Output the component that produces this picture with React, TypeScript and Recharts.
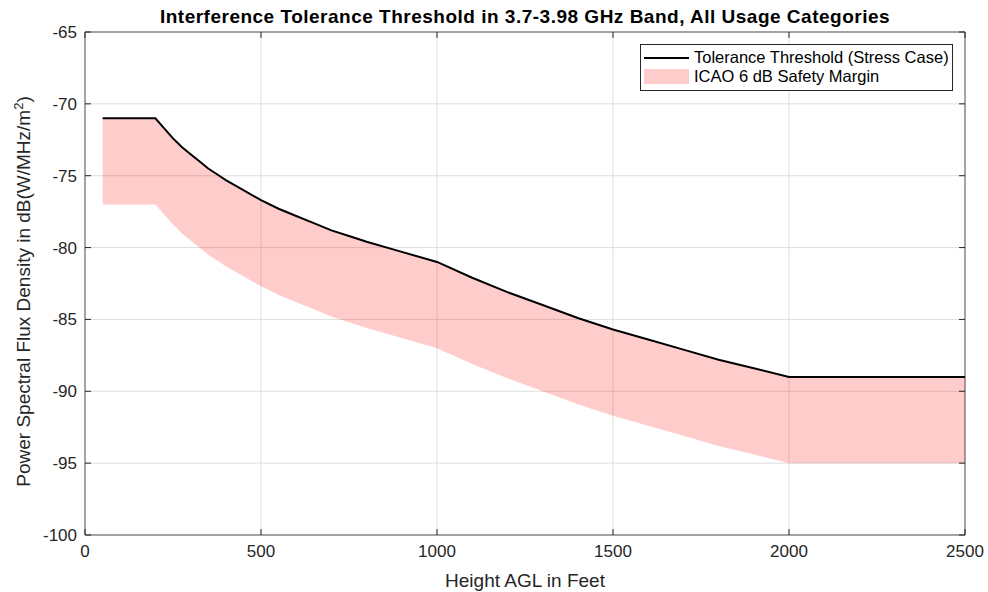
import { ComposedChart, Area, Line, XAxis, YAxis, CartesianGrid, ReferenceArea } from 'recharts';

const heights = [50, 200, 225, 250, 275, 300, 325, 350, 375, 400, 450, 500, 550, 600, 650, 700, 750, 800, 900, 1000, 1100, 1200, 1300, 1400, 1500, 1600, 1700, 1800, 1900, 2000, 2500];
const threshold = [-71, -71, -71.7, -72.4, -73.0, -73.5, -74.0, -74.5, -74.9, -75.3, -76.0, -76.7, -77.3, -77.8, -78.3, -78.8, -79.2, -79.6, -80.3, -81.0, -82.1, -83.1, -84.0, -84.9, -85.7, -86.4, -87.1, -87.8, -88.4, -89.0, -89.0];
const marginLow = [-77, -77, -77.7, -78.4, -79.0, -79.5, -80.0, -80.5, -80.9, -81.3, -82.0, -82.7, -83.3, -83.8, -84.3, -84.8, -85.2, -85.6, -86.3, -87.0, -88.1, -89.1, -90.0, -90.9, -91.7, -92.4, -93.1, -93.8, -94.4, -95.0, -95.0];

const xTicks = [0, 500, 1000, 1500, 2000, 2500];
const yTicks = [-100, -95, -90, -85, -80, -75, -70, -65];

const data = heights.map((h, i) => ({
  h,
  threshold: threshold[i],
  band: [marginLow[i], threshold[i]],
}));

const FONT = '"Liberation Sans", Arial, sans-serif';
const INK = '#262626';
const PLOT_W = 880;
const PLOT_H = 503;

const YTick = (props: any) => {
  const { x, y, payload } = props;
  const ax = x + 8;
  return (
    <g>
      <line x1={ax} y1={y} x2={ax + 6} y2={y} stroke={INK} />
      <line x1={ax + PLOT_W - 6} y1={y} x2={ax + PLOT_W} y2={y} stroke={INK} />
      <text x={x} y={y} dy="0.35em" textAnchor="end" fontSize={17} fill={INK} fontFamily={FONT}>
        {payload.value}
      </text>
    </g>
  );
};

const XTick = (props: any) => {
  const { x, y, payload } = props;
  const ay = y - 8;
  return (
    <g>
      <line x1={x} y1={ay} x2={x} y2={ay - 6} stroke={INK} />
      <line x1={x} y1={ay - PLOT_H} x2={x} y2={ay - PLOT_H + 6} stroke={INK} />
      <text x={x} y={y} dy="0.85em" textAnchor="middle" fontSize={17} fill={INK} fontFamily={FONT}>
        {payload.value}
      </text>
    </g>
  );
};

const YLabel = (props: any) => {
  const { viewBox } = props;
  const cx = 30;
  const cy = viewBox.y + viewBox.height / 2 + 8;
  return (
    <text x={cx} y={cy} transform={`rotate(-90 ${cx} ${cy})`} textAnchor="middle" fontSize={19} fill={INK} fontFamily={FONT}>
      Power Spectral Flux Density in dB(W/MHz/m
      <tspan baselineShift="super" fontSize={13}>2</tspan>
      <tspan>)</tspan>
    </text>
  );
};

const XLabel = (props: any) => {
  const { viewBox } = props;
  return (
    <text x={viewBox.x + viewBox.width / 2} y={587} textAnchor="middle" fontSize={19} fill={INK} fontFamily={FONT}>
      Height AGL in Feet
    </text>
  );
};

export default function App() {
  return (
    <div style={{ position: 'absolute', left: 0, top: 0, width: 988, height: 592, background: '#fff' }}>
      <ComposedChart width={988} height={592} data={data} margin={{ top: 32, right: 23, bottom: 12, left: 25 }}>
        <CartesianGrid stroke="#dedede" />
        <XAxis
          dataKey="h"
          type="number"
          domain={[0, 2500]}
          ticks={xTicks}
          tickLine={false}
          axisLine={false}
          tickSize={0}
          tickMargin={8}
          height={45}
          tick={<XTick />}
          label={<XLabel />}
        />
        <YAxis
          type="number"
          domain={[-100, -65]}
          ticks={yTicks}
          tickLine={false}
          axisLine={false}
          tickSize={0}
          tickMargin={8}
          width={60}
          tick={<YTick />}
          label={<YLabel />}
        />
        <Area
          dataKey="band"
          type="linear"
          stroke="none"
          fill="#ff0000"
          fillOpacity={0.2}
          isAnimationActive={false}
        />
        <Line dataKey="threshold" type="linear" stroke="#000" strokeWidth={2} dot={false} isAnimationActive={false} />
        <ReferenceArea x1={0} x2={2500} y1={-100} y2={-65} fill="none" stroke={INK} strokeOpacity={0.75} />
      </ComposedChart>
      <div
        style={{
          position: 'absolute',
          left: 85,
          width: PLOT_W,
          top: 6,
          textAlign: 'center',
          fontFamily: FONT,
          fontWeight: 'bold',
          fontSize: 19,
          letterSpacing: 0.5,
          color: '#000',
          whiteSpace: 'nowrap',
        }}
      >
        Interference Tolerance Threshold in 3.7-3.98 GHz Band, All Usage Categories
      </div>
      <div
        style={{
          position: 'absolute',
          left: 640,
          top: 44,
          width: 313,
          height: 47,
          boxSizing: 'border-box',
          border: '1px solid #262626',
          background: '#fff',
          padding: '3px 0 0 3px',
          fontFamily: FONT,
          fontSize: 16.5,
          color: '#000',
          lineHeight: '19px',
          whiteSpace: 'nowrap',
        }}
      >
        <div style={{ display: 'flex', alignItems: 'center' }}>
          <span style={{ display: 'inline-block', width: 45, height: 2, background: '#000', marginRight: 5 }} />
          Tolerance Threshold (Stress Case)
        </div>
        <div style={{ display: 'flex', alignItems: 'center' }}>
          <span style={{ display: 'inline-block', width: 45, height: 15, background: '#ffcccc', marginRight: 5 }} />
          ICAO 6 dB Safety Margin
        </div>
      </div>
    </div>
  );
}
